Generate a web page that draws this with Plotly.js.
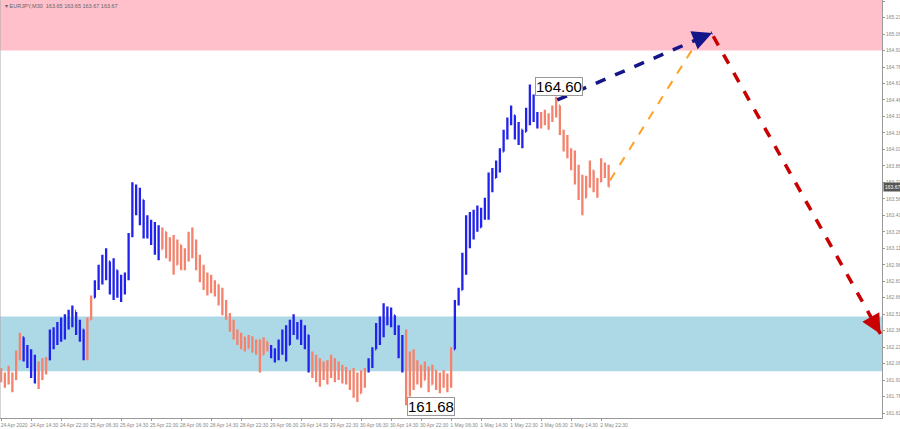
<!DOCTYPE html>
<html><head><meta charset="utf-8">
<script src="https://cdn.plot.ly/plotly-3.0.1.min.js"></script>
<style>html,body{margin:0;padding:0;background:#fff}#chart{width:900px;height:429px}</style>
</head><body><div id="chart"></div>
<script>
// ---- DATA ----
const symbolLabel = "EURJPY,M30  163.65 163.65 163.67 163.67";
const openP = [
161.95,161.92,161.88,161.97,161.92,162.15,162.30,162.12,162.18,161.96,
162.05,161.92,162.06,162.10,162.32,162.25,162.40,162.33,162.47,162.42,
162.54,162.36,162.37,162.12,162.46,162.66,162.78,162.90,162.85,162.99,
162.75,162.91,162.70,162.80,162.86,163.22,163.60,163.48,163.55,163.25,
163.36,163.20,163.30,163.10,163.26,163.08,163.15,162.96,163.14,162.95,
163.08,163.22,163.10,162.95,162.85,162.78,162.85,162.72,162.78,162.62,
162.55,162.50,162.38,162.32,162.26,162.30,162.20,162.28,162.18,162.24,
162.14,162.26,162.19,162.14,162.18,162.25,162.33,162.23,162.42,162.36,
162.40,162.28,162.32,162.02,162.10,161.95,162.05,161.94,162.04,162.10,
161.93,162.02,161.92,161.98,161.86,161.95,161.79,161.96,162.00,162.08,
162.19,162.40,162.45,162.55,162.48,162.50,162.36,162.15,162.02,161.80,
162.10,161.90,162.02,161.91,162.03,161.87,162.00,161.86,161.94,161.88,
161.92,162.19,162.60,162.73,163.02,163.35,163.20,163.40,163.30,163.44,
163.52,163.75,163.75,163.88,163.99,164.15,164.25,164.32,164.15,164.19,
164.17,164.35,164.45,164.30,164.25,164.30,164.26,164.30,164.38,164.41,
164.18,164.05,163.98,163.88,163.75,163.62,163.57,163.72,163.82,163.68,
163.72,163.88,163.80];
const highP = [
162.02,161.98,162.04,161.98,162.18,162.34,162.30,162.23,162.19,162.14,
162.08,162.11,162.12,162.37,162.39,162.44,162.48,162.51,162.55,162.59,
162.53,162.46,162.37,162.48,162.68,162.82,162.96,163.05,163.11,162.99,
163.02,162.91,162.87,162.89,163.25,163.71,163.69,163.66,163.55,163.41,
163.37,163.35,163.32,163.30,163.26,163.21,163.23,163.19,163.14,163.11,
163.26,163.30,163.19,163.05,162.96,162.89,162.87,162.82,162.78,162.75,
162.64,162.52,162.46,162.37,162.34,162.30,162.32,162.31,162.28,162.28,
162.30,162.26,162.23,162.20,162.28,162.37,162.41,162.46,162.51,162.44,
162.46,162.41,162.32,162.17,162.14,162.11,162.08,162.09,162.14,162.11,
162.08,162.05,162.03,162.00,162.02,161.98,162.00,162.02,162.11,162.21,
162.43,162.49,162.61,162.58,162.57,162.50,162.41,162.32,162.37,162.17,
162.19,162.09,162.05,162.08,162.03,162.05,162.00,161.98,162.00,161.97,
162.21,162.64,162.75,163.07,163.41,163.44,163.46,163.50,163.48,163.57,
163.80,163.84,163.91,164.02,164.19,164.30,164.41,164.32,164.26,164.19,
164.39,164.60,164.51,164.35,164.35,164.37,164.34,164.41,164.49,164.41,
164.19,164.14,164.02,164.00,163.87,163.78,163.77,163.91,163.82,163.75,
163.93,163.89,163.87];
const lowP = [
161.89,161.84,161.87,161.80,161.91,162.09,162.08,162.02,161.93,161.88,
161.83,161.91,161.96,162.09,162.19,162.23,162.26,162.28,162.37,162.39,
162.32,162.26,162.09,162.09,162.46,162.66,162.73,162.78,162.82,162.69,
162.64,162.66,162.62,162.69,162.82,163.21,163.41,163.32,163.20,163.20,
163.14,163.05,163.00,163.10,163.02,162.99,162.87,162.96,162.91,162.91,
162.99,163.02,162.91,162.80,162.73,162.68,162.70,162.67,162.59,162.50,
162.46,162.35,162.28,162.23,162.19,162.17,162.20,162.16,162.14,161.98,
162.14,162.17,162.11,162.07,162.09,162.14,162.08,162.23,162.32,162.28,
162.23,162.19,161.98,161.93,161.89,161.85,161.91,161.87,161.93,161.89,
161.91,161.88,161.87,161.82,161.75,161.71,161.79,161.84,161.98,162.02,
162.19,162.23,162.30,162.41,162.39,162.32,162.11,161.98,161.68,161.76,
161.82,161.87,161.84,161.91,161.80,161.87,161.82,161.79,161.84,161.80,
161.84,162.19,162.59,162.73,162.87,163.11,163.19,163.26,163.30,163.37,
163.37,163.62,163.75,163.80,163.99,164.10,164.23,164.10,164.05,164.02,
164.17,164.23,164.26,164.20,164.20,164.23,164.19,164.26,164.30,164.14,
163.99,163.93,163.82,163.69,163.55,163.41,163.57,163.66,163.62,163.57,
163.71,163.75,163.67];
const closeP = [
161.92,161.88,161.97,161.85,162.15,162.30,162.12,162.18,161.96,162.05,
161.88,162.06,162.10,162.32,162.25,162.40,162.33,162.47,162.42,162.54,
162.36,162.40,162.12,162.44,162.64,162.78,162.90,162.85,163.05,162.75,
162.95,162.70,162.80,162.86,163.22,163.60,163.48,163.58,163.25,163.36,
163.20,163.30,163.05,163.26,163.08,163.15,162.92,163.15,162.95,163.08,
163.22,163.10,162.95,162.85,162.78,162.85,162.72,162.78,162.62,162.55,
162.50,162.38,162.32,162.26,162.30,162.20,162.28,162.18,162.24,162.05,
162.26,162.19,162.14,162.18,162.25,162.33,162.15,162.42,162.36,162.40,
162.28,162.36,162.02,162.10,161.95,162.05,161.94,162.04,162.10,161.93,
162.02,161.92,161.98,161.86,161.95,161.76,161.96,162.00,162.08,162.18,
162.40,162.45,162.55,162.48,162.52,162.36,162.15,162.02,161.80,162.10,
161.90,162.02,161.90,162.04,161.85,162.00,161.86,161.94,161.88,161.92,
162.18,162.60,162.72,163.02,163.35,163.20,163.40,163.30,163.44,163.52,
163.75,163.70,163.88,163.98,164.15,164.25,164.35,164.15,164.20,164.08,
164.35,164.45,164.30,164.25,164.30,164.26,164.30,164.38,164.42,164.18,
164.05,163.98,163.88,163.75,163.62,163.55,163.72,163.85,163.68,163.72,
163.88,163.80,163.67];
// bar-index ranges of the blue (impulse) wave sections; all others are salmon
const blueWaves = [[6,9],[13,22],[25,42],[72,82],[98,107],[121,143]];
const xTickText = ["24 Apr 2020","24 Apr 14:30","24 Apr 22:30","25 Apr 06:30","25 Apr 14:30","25 Apr 22:30",
  "28 Apr 06:30","28 Apr 14:30","28 Apr 22:30","29 Apr 06:30","29 Apr 14:30","29 Apr 22:30",
  "30 Apr 06:30","30 Apr 14:30","30 Apr 22:30","1 May 06:30","1 May 14:30","1 May 22:30",
  "2 May 06:30","2 May 14:30","2 May 22:30"];
const yTicks = [165.36,165.21,165.06,164.91,164.76,164.61,164.46,164.31,164.16,164.01,163.86,163.71,
  163.56,163.41,163.26,163.11,162.96,162.81,162.66,162.51,162.36,162.21,162.06,161.91,161.76,161.61];
const resistanceZone = [164.91, 165.45];
const supportZone = [161.99, 162.49];
const forecastBlue = {x:[148.3,189.6], y:[164.46,165.07]};
const forecastOrange = {x:[162.4,185.6], y:[163.73,164.99]};
const forecastRed = {x:[189.9,234.5], y:[165.04,162.33]};
const highLabel = {i:141, text:"164.60"};
const lowLabel = {i:108, text:"161.68"};
const lastPrice = 163.67;

// ---- BUILD ----
const isBlue = i => blueWaves.some(r => i >= r[0] && i <= r[1]);
const idxAll = openP.map((_, i) => i);
function ohlcTrace(idx, color){
  return {type:'ohlc', x:idx, open:idx.map(i=>openP[i]), high:idx.map(i=>highP[i]),
    low:idx.map(i=>lowP[i]), close:idx.map(i=>closeP[i]), tickwidth:0.25,
    increasing:{line:{color:color,width:2.3}}, decreasing:{line:{color:color,width:2.3}},
    hoverinfo:'skip', showlegend:false};
}
const data = [
  ohlcTrace(idxAll.filter(i=>!isBlue(i)), '#f4826c'),
  ohlcTrace(idxAll.filter(isBlue), '#2222ee')
];
const tickFont = {family:'Liberation Sans, Arial', size:5, color:'#888'};
const shapes = [
  {type:'rect', xref:'paper', x0:0, x1:1, yref:'y', y0:resistanceZone[0], y1:resistanceZone[1], fillcolor:'#ffc0cb', line:{width:0}, layer:'below'},
  {type:'rect', xref:'paper', x0:0, x1:1, yref:'y', y0:supportZone[0], y1:supportZone[1], fillcolor:'#add8e6', line:{width:0}, layer:'below'},
  {type:'line', xref:'paper', x0:0, x1:0, yref:'paper', y0:0, y1:1, line:{color:'#aaaaaa', width:1}},
  {type:'line', x0:forecastOrange.x[0], x1:forecastOrange.x[1], y0:forecastOrange.y[0], y1:forecastOrange.y[1], line:{color:'#ffa020', width:2, dash:'dash'}},
  {type:'line', x0:forecastBlue.x[0], x1:forecastBlue.x[1], y0:forecastBlue.y[0], y1:forecastBlue.y[1], line:{color:'#15158a', width:3.5, dash:'dash'}},
  {type:'line', x0:forecastRed.x[0], x1:forecastRed.x[1], y0:forecastRed.y[0], y1:forecastRed.y[1], line:{color:'#c80000', width:3.5, dash:'dash'}}
];
const annotations = [
  {xref:'paper', yref:'paper', x:0.003, y:0.998, xanchor:'left', yanchor:'top', showarrow:false,
   text:'▾ ' + symbolLabel, font:{family:'Liberation Sans, Arial', size:5.5, color:'#666'}},
  {x:forecastBlue.x[1], y:forecastBlue.y[1], showarrow:true, text:'', ax:-15, ay:6, arrowhead:2, arrowsize:1.3, arrowwidth:3, arrowcolor:'#15158a'},
  {x:forecastRed.x[1], y:forecastRed.y[1], showarrow:true, text:'', ax:-8, ay:-14, arrowhead:2, arrowsize:1.3, arrowwidth:3, arrowcolor:'#c80000'},
  {x:highLabel.i + 1.3, y:highP[highLabel.i] - 0.02, xanchor:'left', yanchor:'middle', showarrow:false, text:highLabel.text,
   font:{family:'Liberation Sans, Arial', size:15, color:'#000'}, bgcolor:'#ffffff', bordercolor:'#999', borderwidth:1, borderpad:0},
  {x:lowLabel.i + 0.2, y:lowP[lowLabel.i] - 0.01, xanchor:'left', yanchor:'middle', showarrow:false, text:lowLabel.text,
   font:{family:'Liberation Sans, Arial', size:15, color:'#000'}, bgcolor:'#ffffff', bordercolor:'#999', borderwidth:1, borderpad:0},
  {xref:'paper', x:1, xanchor:'left', xshift:1, y:lastPrice, yanchor:'middle', showarrow:false, text:lastPrice.toFixed(2),
   font:{family:'Liberation Sans, Arial', size:5, color:'#fff'}, bgcolor:'#555', borderpad:1}
];
const layout = {
  width:900, height:429, margin:{l:0, r:18, t:0, b:11},
  paper_bgcolor:'#fff', plot_bgcolor:'#fff', showlegend:false, hovermode:false, dragmode:false,
  xaxis:{type:'linear', range:[-0.3, 234.9], rangeslider:{visible:false}, showgrid:false, zeroline:false,
    tickvals:xTickText.map((_, k) => k*8), ticktext:xTickText, tickangle:0, ticks:'outside', ticklen:2, tickcolor:'#999',
    tickfont:tickFont, ticklabelshift:13, ticklabelstandoff:0, automargin:false,
    showline:true, linecolor:'#999', linewidth:1},
  yaxis:{side:'right', range:[161.565, 165.37], showgrid:false, zeroline:false,
    tickvals:yTicks, ticktext:yTicks.map(v=>v.toFixed(2)), ticks:'outside', ticklen:2, tickcolor:'#999',
    tickfont:tickFont, ticklabelstandoff:0, automargin:false,
    showline:true, linecolor:'#999', linewidth:1},
  shapes:shapes, annotations:annotations
};
Plotly.newPlot('chart', data, layout, {displayModeBar:false, staticPlot:true});
</script></body></html>
